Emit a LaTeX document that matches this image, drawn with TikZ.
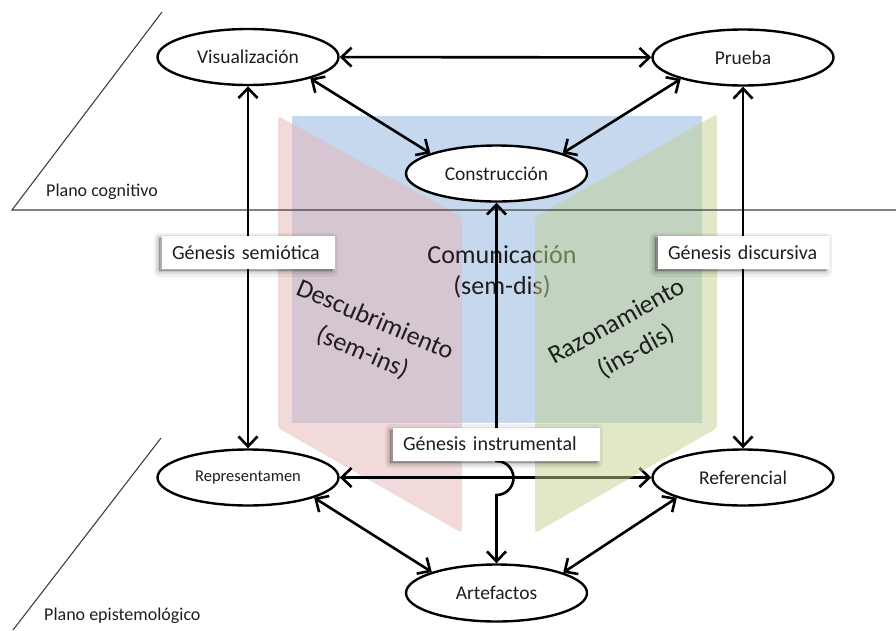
\documentclass[tikz,border=0pt]{standalone}
\usepackage{fontspec}
\setmainfont{Carlito}
\usetikzlibrary{arrows.meta,shapes.geometric}
\pgfdeclarelayer{bg}
\pgfsetlayers{bg,main}
\definecolor{txt}{RGB}{30,30,30}
\definecolor{bluep}{RGB}{197,216,238}
\definecolor{pinkp}{RGB}{229,181,181}
\definecolor{greenp}{RGB}{193,209,145}
\begin{document}
\begin{tikzpicture}[x=1pt,y=-1pt,
  ell/.style={ellipse, draw, line width=2.4pt, fill=white, minimum width=181pt, minimum height=56pt, inner sep=0pt, text=txt, font=\fontsize{19.5}{23}\selectfont},
  link/.style={line width=2.6pt, {Straight Barb[length=10pt,width=19pt]}-{Straight Barb[length=10pt,width=19pt]}},
  softshadow/.style={preaction={draw=black, fill=black, draw opacity=0.06, fill opacity=0.06, line width=11pt, line join=round, transform canvas={xshift=-3pt, yshift=-2pt}},
                     preaction={draw=black, fill=black, draw opacity=0.08, fill opacity=0.08, line width=6pt, line join=round, transform canvas={xshift=-3pt, yshift=-2pt}},
                     preaction={draw=black, fill=black, draw opacity=0.10, fill opacity=0.10, line width=2pt, line join=round, transform canvas={xshift=-3pt, yshift=-2pt}}},
  gen/.style={softshadow, fill=white, text=txt, font=\fontsize{20}{24}\selectfont, inner xsep=10pt, inner ysep=0pt, minimum height=33pt, align=left},
  plane/.style={line width=1.1pt, draw=black!75},
  planelabel/.style={anchor=west, inner sep=0pt, text=txt, font=\fontsize{18}{22}\selectfont},
  big/.style={text=txt, font=\fontsize{26}{31}\selectfont, align=center, inner sep=0pt},
]
\useasboundingbox (0,0) rectangle (896,630);

% nodes
\node[ell] (vis) at (248,57) {Visualización};
\node[ell] (pru) at (743,57.5) {Prueba};
\node[ell] (con) at (496.5,173.5) {Construcción};
\node[ell, font=\fontsize{16.5}{20}\selectfont] (rep) at (248,477.5) {Representamen};
\node[ell] (ref) at (743,477.5) {Referencial};
\node[ell, minimum height=57pt] (art) at (496.5,593) {Artefactos};

% background panels
\begin{pgfonlayer}{bg}
\fill[bluep] (292,116) rectangle (702,423);
\fill[pinkp, fill opacity=0.5, rounded corners=3pt] (278,116) -- (462,217) -- (462,533) -- (278,428) -- cycle;
\node[big] (com) at (502,272) {Comunicación\\(sem-dis)};
\draw[link] (rep) -- (ref);
\fill[greenp, fill opacity=0.5, rounded corners=3pt] (717,114) -- (535,217) -- (535,533) -- (717,428) -- cycle;
\node[big, rotate=-23] (des1) at (375.5,319) {Descubrimiento};
\node[big, rotate=-23] (des2) at (362.5,352.5) {(sem-ins)};
\node[big, rotate=29] (raz1) at (616.5,320.5) {Razonamiento};
\node[big, rotate=29] (raz2) at (636,351.5) {(ins-dis)};
\end{pgfonlayer}

% planes
\draw[plane] (162,12) -- (12,210) -- (896,210);
\draw[plane] (161,438) -- (13,630);
\node[planelabel] (pc) at (46,192) {Plano cognitivo};
\node[planelabel] (pe) at (44,616) {Plano epistemológico};

% connectors
\draw[link] (vis) -- (pru);
\draw[link] (vis.-19) -- (con.163);
\draw[link] (pru.-161) -- (con.17);
\draw[link] (vis) -- (rep);
\draw[link] (pru) -- (ref);
\draw[link] (rep.-17) -- (art.162);
\draw[link] (ref.-163) -- (art.17);
\coordinate (jtop) at (496.5,461);
\draw[link] (con.south) -- (jtop) arc[start angle=90, end angle=-90, radius=17pt] -- (art.north);

% genesis labels
\node[gen, text width=153pt] (gs) at (248.5,252.5) {Génesis semiótica};
\node[gen, text width=151pt] (gd) at (743.5,252.5) {Génesis discursiva};
\node[gen, text width=187pt] (gi) at (496.5,444) {Génesis instrumental};
\end{tikzpicture}
\end{document}
